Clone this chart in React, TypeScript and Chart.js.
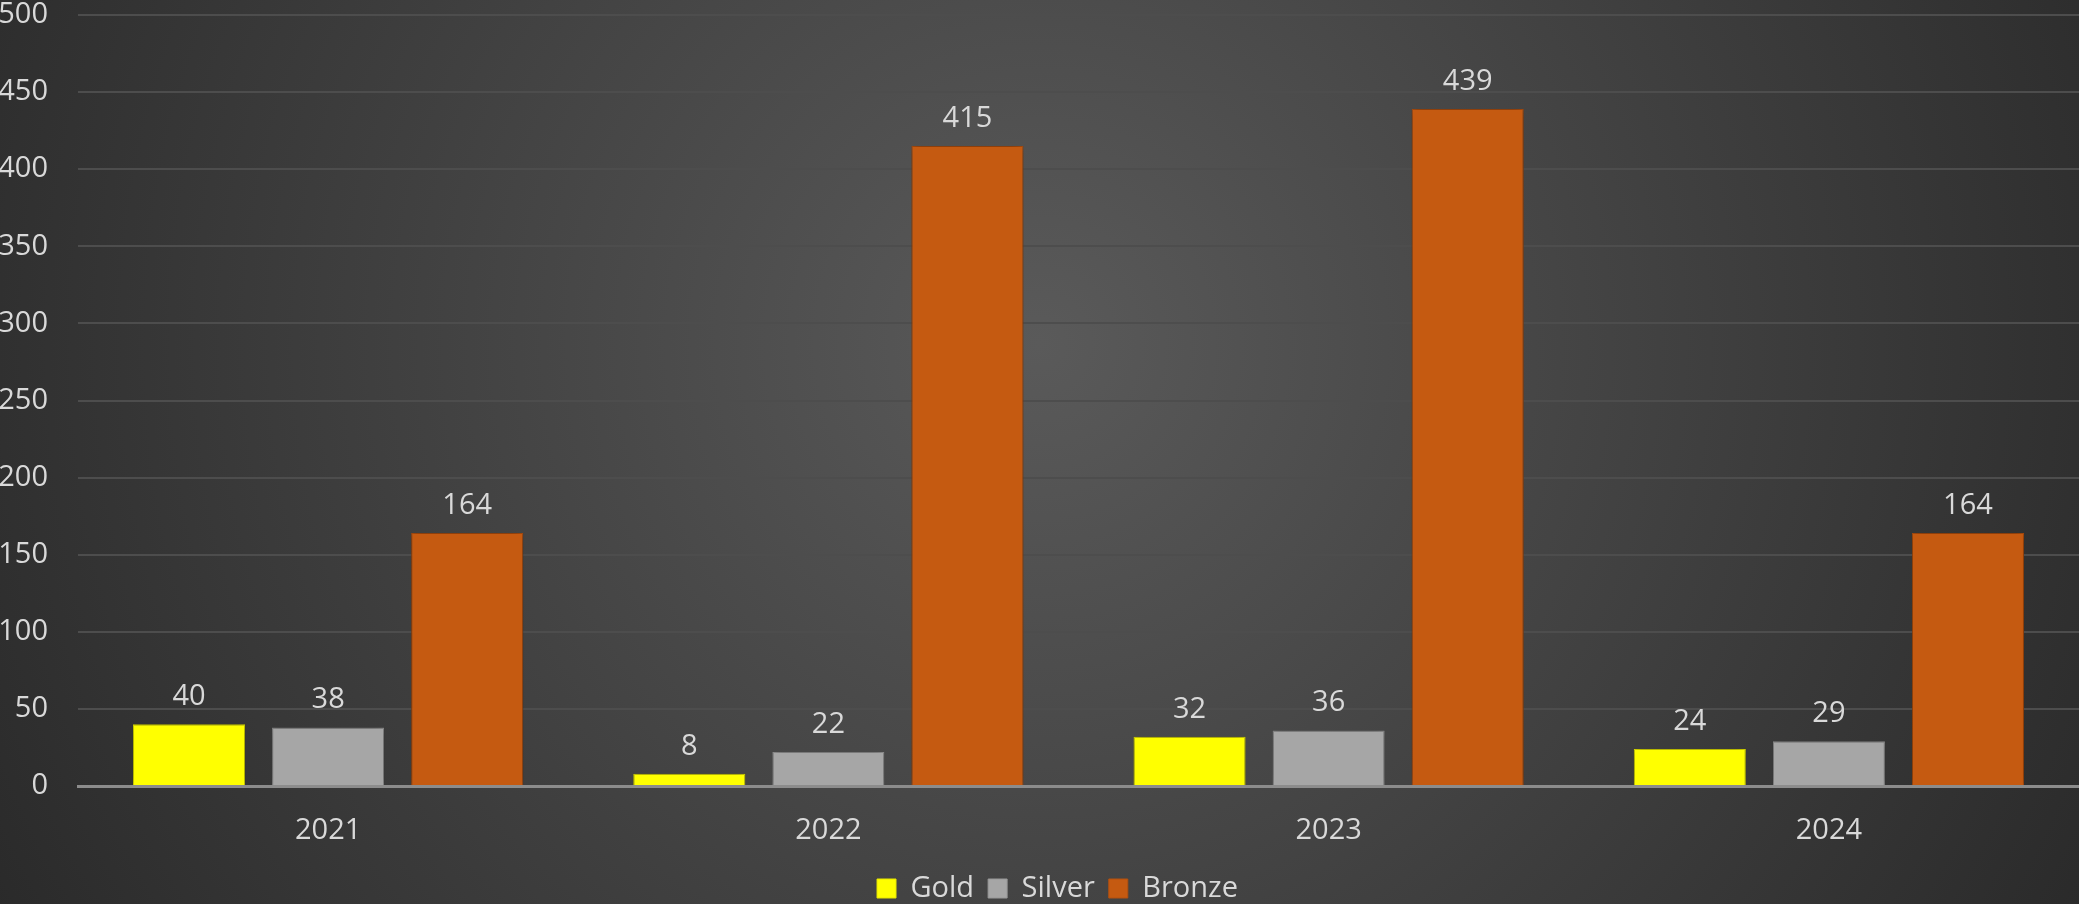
import React, { useEffect, useRef } from "react";
import { Chart, registerables } from "chart.js";

Chart.register(...registerables);

const categories = ["2021", "2022", "2023", "2024"];
const goldValues = [40, 8, 32, 24];
const silverValues = [38, 22, 36, 29];
const bronzeValues = [164, 415, 439, 164];
const yTicks = [0, 50, 100, 150, 200, 250, 300, 350, 400, 450, 500];

const FONT = "'Open Sans', 'Noto Sans', sans-serif";
const TEXT = "#d9d9d9";
const FSIZE = 29;

const bgPlugin = {
  id: "bgGradient",
  beforeDraw(chart: any) {
    const { ctx, width, height } = chart;
    ctx.save();
    const g = ctx.createRadialGradient(width * 0.5, height * 0.38, 0, width * 0.5, height * 0.38, width * 0.62);
    g.addColorStop(0, "#5a5a5a");
    g.addColorStop(1, "#262626");
    ctx.fillStyle = g;
    ctx.fillRect(0, 0, width, height);
    ctx.restore();
  },
};

const legendShiftPlugin = {
  id: "legendShift",
  afterLayout(chart: any) {
    const lg = chart.legend;
    if (!lg) return;
    lg.left += 18;
    lg.right += 18;
    lg.top += 9;
    lg.bottom += 9;
  },
};

const shadowPlugin = {
  id: "barShadow",
  beforeDatasetsDraw(chart: any) {
    const ctx = chart.ctx;
    ctx.save();
    ctx.shadowColor = "rgba(0,0,0,0.45)";
    ctx.shadowBlur = 10;
    ctx.shadowOffsetX = 0;
    ctx.shadowOffsetY = 0;
  },
  afterDatasetsDraw(chart: any) {
    chart.ctx.restore();
  },
};

const labelPlugin = {
  id: "valueLabels",
  afterDatasetsDraw(chart: any) {
    const ctx = chart.ctx;
    ctx.save();
    ctx.fillStyle = TEXT;
    ctx.font = `${FSIZE}px ${FONT}`;
    ctx.textAlign = "center";
    ctx.textBaseline = "alphabetic";
    chart.data.datasets.forEach((ds: any, i: number) => {
      const meta = chart.getDatasetMeta(i);
      meta.data.forEach((bar: any, j: number) => {
        ctx.fillText(String(ds.data[j]), bar.x, bar.y - 19);
      });
    });
    ctx.restore();
  },
};

export default function App() {
  const ref = useRef<HTMLCanvasElement | null>(null);

  useEffect(() => {
    document.body.style.margin = "0";
    if (!ref.current) return;
    const chart = new Chart(ref.current, {
      type: "bar",
      data: {
        labels: categories,
        datasets: [
          { label: "Gold", data: goldValues, backgroundColor: "#ffff00", borderColor: "#e6e600", borderWidth: 1 },
          { label: "Silver", data: silverValues, backgroundColor: "#a6a6a6", borderColor: "#999999", borderWidth: 1 },
          { label: "Bronze", data: bronzeValues, backgroundColor: "#c55a11", borderColor: "#b4500e", borderWidth: 1 },
        ],
      },
      options: {
        animation: false,
        responsive: false,
        maintainAspectRatio: false,
        layout: { padding: { top: 15, left: 0, right: 0, bottom: 0 } },
        datasets: {
          bar: { categoryPercentage: 0.834, barPercentage: 0.806 },
        },
        plugins: {
          legend: {
            position: "bottom",
            labels: {
              color: TEXT,
              font: { family: FONT, size: FSIZE },
              boxWidth: 19,
              boxHeight: 19,
              padding: 14,
            },
          },
          tooltip: { enabled: false },
        },
        scales: {
          x: {
            grid: { display: false, drawTicks: false },
            border: { color: "#8c8c8c", width: 3 },
            ticks: { color: TEXT, font: { family: FONT, size: FSIZE }, padding: 27 },
            afterFit(scale: any) {
              scale.paddingLeft = 0;
              scale.paddingRight = 0;
              scale.height = 65;
            },
          },
          y: {
            min: 0,
            max: 500,
            afterBuildTicks(scale: any) {
              scale.ticks = yTicks.map((v) => ({ value: v }));
            },
            afterFit(scale: any) {
              scale.paddingTop = 0;
              scale.paddingBottom = 0;
              scale.width = 78;
            },
            grid: { color: "#4d4d4d", lineWidth: 2, drawTicks: false },
            border: { display: false },
            ticks: { color: TEXT, font: { family: FONT, size: FSIZE }, padding: 30 },
          },
        },
      },
      plugins: [bgPlugin, legendShiftPlugin, shadowPlugin, labelPlugin],
    });
    return () => chart.destroy();
  }, []);

  return (
    <div style={{ position: "fixed", left: 0, top: 0, width: 2079, height: 904 }}>
      <canvas ref={ref} width={2079} height={904} style={{ display: "block" }} />
    </div>
  );
}
